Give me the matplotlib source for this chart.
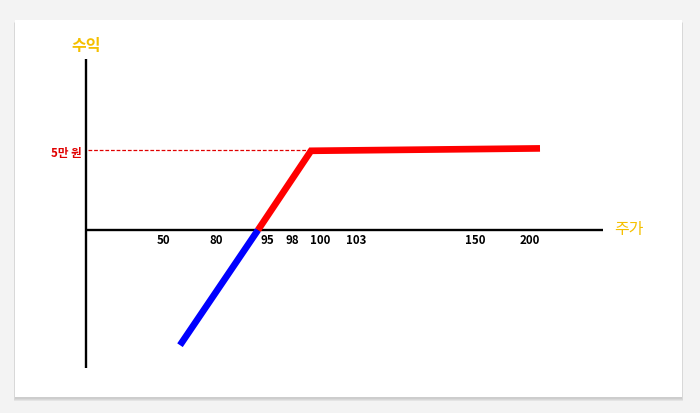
import matplotlib
matplotlib.use("Agg")
import matplotlib.pyplot as plt
from matplotlib.patches import Rectangle

plt.rcParams['font.family'] = ['Noto Sans CJK KR', 'DejaVu Sans']

# ---- data (x in axis-position units, y in 만 원) ----
tick_labels = ["50", "80", "95", "98", "100", "103", "150", "200"]
tick_pos = [7.7, 13.0, 18.1, 20.6, 23.4, 27.0, 38.9, 44.4]
loss_x = [9.4, 17.2]          # blue segment
loss_y = [-7.2, 0.0]
gain_x = [17.2, 22.5, 45.4]   # red segment
gain_y = [0.0, 4.95, 5.1]
cap_value = 5.0
cap_label = "5만 원"
x_axis_end = 51.7
y_axis_top = 10.7
y_axis_bottom = -8.6

fig = plt.figure(figsize=(7, 4.13), dpi=100)
fig.patch.set_facecolor("#f3f3f3")

# card with soft shadow
for i, a in enumerate([0.05, 0.05, 0.06]):
    fig.patches.append(Rectangle((15/700 - 0.001*i, (413-399-i)/413), (667+2*i*0.7)/700, (378)/413,
                                 transform=fig.transFigure, facecolor="#000000", alpha=a,
                                 edgecolor="none", zorder=-3))
fig.patches.append(Rectangle((15/700, (413-397)/413), 667/700, 377/413,
                             transform=fig.transFigure, facecolor="white",
                             edgecolor="none", zorder=-2))

ax = fig.add_axes([0, 0, 1, 1])
ax.set_zorder(1)
ax.set_facecolor("none")
ax.set_xlim(-8.6, 61.4)
ax.set_ylim((230 - 413) / 16, 230 / 16)
ax.axis("off")

# axes lines
ax.plot([0, x_axis_end], [0, 0], color="black", lw=1.7, solid_capstyle="butt", zorder=2)
ax.plot([0, 0], [y_axis_bottom, y_axis_top], color="black", lw=1.7, solid_capstyle="butt", zorder=2)

# dashed cap line
ax.plot([0.2, gain_x[1]], [cap_value, cap_value], color="#e00000", lw=0.9,
        linestyle=(0, (3, 1.5)), zorder=2)

# payoff lines
ax.plot(loss_x, loss_y, color="#0000ff", lw=4.8, solid_capstyle="butt", zorder=3)
ax.plot(gain_x, gain_y, color="#ff0000", lw=4.8, solid_capstyle="butt",
        solid_joinstyle="miter", zorder=4)

# tick labels
for p, t in zip(tick_pos, tick_labels):
    ax.text(p, -0.65, t, ha="center", va="center", fontsize=8.3, fontweight="bold",
            color="black", zorder=5)

ax.text(-0.4, cap_value - 0.2, cap_label, ha="right", va="center", fontsize=8.3,
        fontweight="bold", color="#e00000", zorder=5)

ax.text(0.0, 11.5, "수익", ha="center", va="center", fontsize=11.5,
        fontweight="bold", color="#f5c000", zorder=5)
ax.text(x_axis_end + 2.6, 0.05, "주가", ha="center", va="center", fontsize=11.5,
        fontweight="medium", color="#f5c000", zorder=5)

fig.savefig("out.png", dpi=100, facecolor=fig.get_facecolor())
